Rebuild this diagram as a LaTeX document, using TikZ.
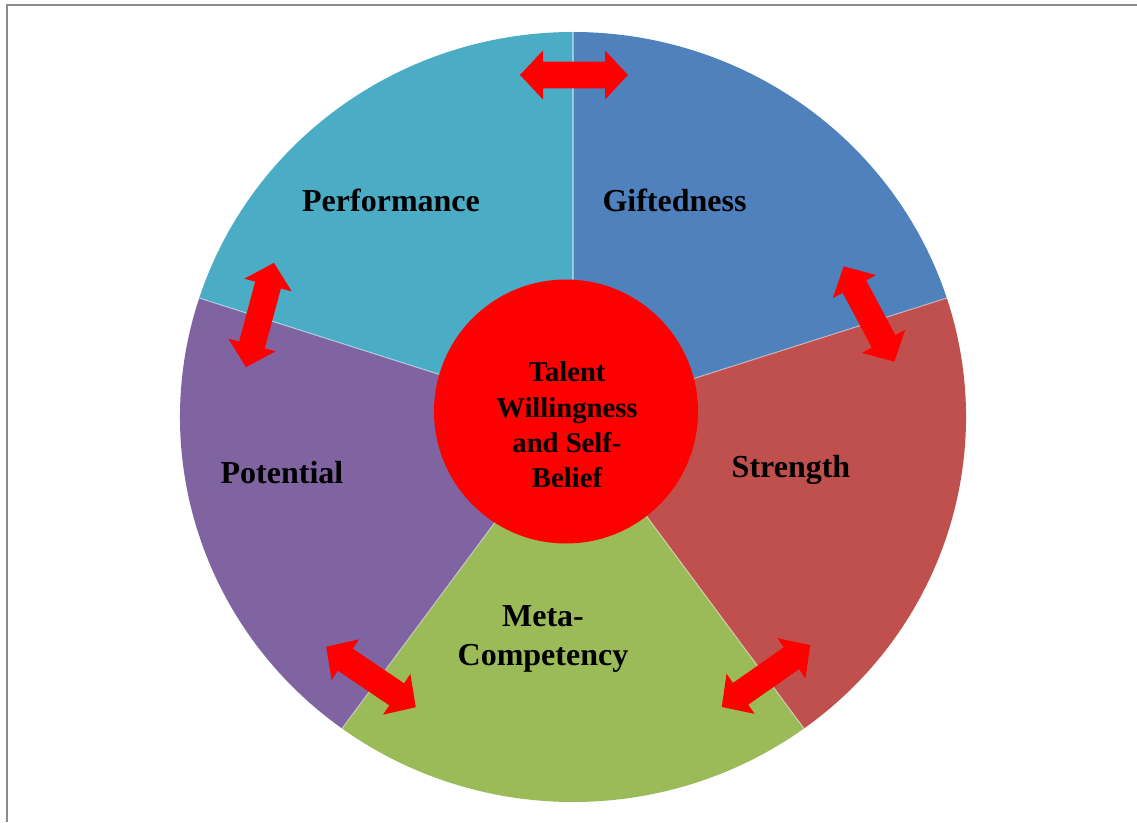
\documentclass[tikz,border=0pt]{standalone}
\usepackage{fontspec}
\setmainfont{Liberation Serif}
\definecolor{gifted}{HTML}{4F81BD}
\definecolor{strength}{HTML}{C0504D}
\definecolor{metacomp}{HTML}{9BBB59}
\definecolor{potential}{HTML}{8064A2}
\definecolor{perform}{HTML}{4BACC6}
\definecolor{framegray}{HTML}{8C8C8C}

\begin{document}
\begin{tikzpicture}[x=0.75pt,y=0.75pt,
  partlabel/.style={font=\fontsize{24}{29}\selectfont\bfseries, align=center, inner sep=0pt},
  coretext/.style={font=\fontsize{21.5}{26.5}\selectfont\bfseries, align=center, inner sep=0pt},
  dblarrow/.pic={\fill[red] (-54,0) -- (-31,24.5) -- (-31,13.3) -- (31,13.3) -- (31,24.5) -- (54,0)
    -- (31,-24.5) -- (31,-13.3) -- (-31,-13.3) -- (-31,-24.5) -- cycle;}]
\useasboundingbox (0,0) rectangle (1137,822);
\draw[framegray, line width=1.9pt] (7,0) -- (7,817) -- (1137,817);

\coordinate (c) at (573,405);
\foreach \a/\col in {90/gifted,18/strength,-54/metacomp,-126/potential,162/perform}
  \fill[\col] (c) -- ++(\a:393 and 385) arc[start angle=\a, delta angle=-72, x radius=393, y radius=385] -- cycle;
\foreach \a in {90,18,-54,-126,162}
  \draw[white, opacity=0.45, line width=0.8pt] (c) -- ++(\a:393 and 385);

\node[circle, fill=red, minimum size=198pt, inner sep=0pt] (core) at (566,410.5) {};
\node[coretext] (coretxt) at (567,397) {Talent\\Willingness\\and Self-\\Belief};

\node[partlabel, anchor=base] (perf) at (391,610) {Performance};
\node[partlabel, anchor=base] (gift) at (674.5,610) {Giftedness};
\node[partlabel, anchor=base] (stren) at (791,345) {Strength};
\node[partlabel, anchor=base] (poten) at (282,339) {Potential};
\node[partlabel] (meta) at (543,183) {Meta-\\Competency};

\pic (arrtop) at (574,747) {dblarrow};
\pic[rotate=-62] (arrright) at (869,508) {dblarrow};
\pic[rotate=35] (arrlowright) at (766,146) {dblarrow};
\pic[rotate=-34] (arrlowleft) at (371,145) {dblarrow};
\pic[rotate=75] (arrleft) at (260,507) {dblarrow};
\end{tikzpicture}
\end{document}
